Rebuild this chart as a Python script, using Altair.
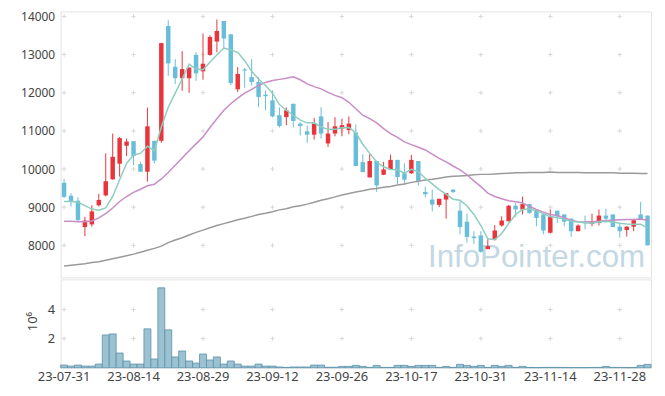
import altair as alt
import pandas as pd
import itertools

dates = [
    "23-07-31", "23-08-01", "23-08-02", "23-08-03", "23-08-04",
    "23-08-07", "23-08-08", "23-08-09", "23-08-10", "23-08-11",
    "23-08-14", "23-08-16", "23-08-17", "23-08-18",
    "23-08-21", "23-08-22", "23-08-23", "23-08-24", "23-08-25",
    "23-08-28", "23-08-29", "23-08-30", "23-08-31", "23-09-01",
    "23-09-04", "23-09-05", "23-09-06", "23-09-07", "23-09-08",
    "23-09-11", "23-09-12", "23-09-13", "23-09-14", "23-09-15",
    "23-09-18", "23-09-19", "23-09-20", "23-09-21", "23-09-22",
    "23-09-25", "23-09-26", "23-09-27",
    "23-10-04", "23-10-05", "23-10-06",
    "23-10-10", "23-10-11", "23-10-12", "23-10-13",
    "23-10-16", "23-10-17", "23-10-18", "23-10-19", "23-10-20",
    "23-10-23", "23-10-24", "23-10-25", "23-10-26", "23-10-27",
    "23-10-30", "23-10-31", "23-11-01", "23-11-02", "23-11-03",
    "23-11-06", "23-11-07", "23-11-08", "23-11-09", "23-11-10",
    "23-11-13", "23-11-14", "23-11-15", "23-11-16", "23-11-17",
    "23-11-20", "23-11-21", "23-11-22", "23-11-23", "23-11-24",
    "23-11-27", "23-11-28", "23-11-29", "23-11-30", "23-12-01",
    "23-12-04",
]

opens = [9640, 9300, 9170, 8480, 8550, 9050, 9310, 9730, 10140, 10610,
         10730, 10130, 9930, 10740, 10740, 13750, 12680, 12380, 12380, 12990,
         12560, 12990, 13340, 13880, 13530, 12090, 12610, 12410, 12280, 11950,
         11800, 11410, 11360, 11710, 11190, 10990, 10900, 11380, 10670, 10930,
         11060, 11020, 10960, 10180, 9780, 10210, 9850, 9990, 10240, 9890,
         9890, 10210, 9400, 9200, 9060, 9200, 9460, 8910, 8620, 8230,
         8260, 7900, 8160, 8520, 8630, 9040, 8940, 9080, 8920, 8810,
         8330, 8910, 8810, 8700, 8370, 8620, 8560, 8590, 8780, 8810,
         8490, 8400, 8490, 8810, 8780]
highs = [9740, 9370, 9260, 8750, 9050, 9350, 10410, 10930, 10840, 10800,
         10730, 10190, 11610, 10740, 13310, 13900, 12880, 13090, 12660, 13060,
         13550, 13510, 13920, 13880, 13530, 12670, 12650, 12880, 12410, 12060,
         12060, 11620, 11610, 11710, 11230, 11140, 11340, 11620, 11230, 11360,
         11320, 11380, 11170, 10390, 10390, 10210, 10190, 10380, 10240, 10150,
         10370, 10210, 9540, 9460, 9220, 9370, 9470, 9150, 8830, 8370,
         8370, 8160, 8530, 8760, 9050, 9110, 9280, 9080, 8940, 8810,
         8940, 8910, 8810, 8700, 8550, 8780, 8830, 8940, 8960, 8810,
         8590, 8500, 8690, 9140, 8780]
lows = [9240, 9020, 8640, 8240, 8490, 9020, 9280, 9720, 9800, 10340,
        10100, 9930, 9670, 10150, 10690, 12440, 12230, 12050, 12000, 12310,
        12340, 12970, 13060, 13170, 12200, 12020, 12130, 12190, 11620, 11540,
        11350, 11090, 11150, 11090, 10880, 10680, 10770, 10800, 10580, 10860,
        10860, 10910, 10080, 9920, 9780, 9400, 9840, 9990, 9610, 9590,
        9870, 9570, 9260, 8890, 9000, 8700, 9370, 8290, 8070, 8040,
        7810, 7900, 8130, 8490, 8630, 8750, 8810, 8830, 8500, 8290,
        8310, 8590, 8500, 8220, 8370, 8420, 8500, 8520, 8590, 8480,
        8200, 8230, 8370, 8690, 8000]
closes = [9270, 9150, 8660, 8650, 8890, 9190, 9680, 10320, 10810, 10720,
          10340, 9930, 11120, 10220, 13300, 12770, 12380, 12620, 12660, 12510,
          12760, 13460, 13620, 13420, 12250, 12490, 12580, 12280, 11890, 11910,
          11380, 11130, 11540, 11260, 11130, 10900, 11190, 10930, 10930, 11120,
          11150, 11190, 10080, 9920, 10210, 9570, 9990, 10240, 9790, 9720,
          10240, 9690, 9340, 9070, 9220, 9370, 9400, 8480, 8220, 8190,
          7830, 7980, 8390, 8650, 9040, 8940, 9080, 8850, 8720, 8390,
          8760, 8760, 8620, 8370, 8520, 8580, 8630, 8780, 8700, 8480,
          8370, 8490, 8660, 8690, 8000]

ma5 = [9150, 9150, 9130, 9040, 8950, 8920, 8980, 9280, 9720, 10150,
       10370, 10410, 10600, 10480, 11100, 11620, 11990, 12360, 12750, 12620,
       12600, 12800, 12990, 13170, 13120, 13060, 12840, 12560, 12360, 12190,
       11990, 11690, 11540, 11410, 11280, 11210, 11210, 11100, 11040, 11040,
       11080, 11090, 10950, 10650, 10410, 10190, 10060, 9990, 9980, 9890,
       9990, 9930, 9760, 9610, 9460, 9340, 9210, 9180, 9040, 8810,
       8520, 8170, 8150, 8310, 8570, 8810, 8940, 8950, 8910, 8830,
       8750, 8730, 8680, 8630, 8610, 8590, 8580, 8610, 8630, 8610,
       8580, 8560, 8550, 8550, 8460]
ma20 = [8630, 8630, 8620, 8620, 8640, 8720, 8830, 8980, 9150, 9280,
        9390, 9470, 9560, 9600, 9740, 9910, 10100, 10290, 10480, 10660,
        10840, 11090, 11320, 11540, 11710, 11860, 11990, 12090, 12190, 12270,
        12320, 12350, 12380, 12420, 12340, 12230, 12160, 12100, 12010, 11930,
        11870, 11750, 11580, 11410, 11320, 11210, 11060, 10930, 10830, 10710,
        10640, 10570, 10500, 10390, 10280, 10190, 10080, 9980, 9850, 9690,
        9540, 9370, 9280, 9220, 9170, 9140, 9110, 9020, 8940, 8870,
        8810, 8780, 8720, 8660, 8620, 8610, 8620, 8630, 8650, 8660,
        8670, 8680, 8680, 8690, 8660]
ma_long = [7460, 7480, 7500, 7520, 7550, 7570, 7610, 7650, 7690, 7730,
           7770, 7820, 7870, 7920, 7980, 8070, 8140, 8200, 8270, 8340,
           8400, 8460, 8520, 8570, 8620, 8670, 8710, 8760, 8810, 8840,
           8880, 8930, 8960, 9010, 9040, 9080, 9130, 9180, 9220, 9270,
           9320, 9360, 9400, 9430, 9470, 9490, 9520, 9540, 9580, 9610,
           9650, 9680, 9710, 9730, 9760, 9790, 9810, 9820, 9830, 9850,
           9860, 9860, 9870, 9880, 9890, 9900, 9900, 9910, 9910, 9910,
           9920, 9910, 9910, 9910, 9910, 9900, 9900, 9900, 9900, 9900,
           9890, 9890, 9890, 9880, 9880]
volume_m = [0.18, 0.11, 0.18, 0.11, 0.11, 0.25, 2.25, 2.32, 1.01, 0.46,
            0.25, 0.25, 2.67, 0.60, 5.49, 2.60, 0.74, 1.15, 0.46, 0.32,
            0.94, 0.53, 0.74, 0.25, 0.46, 0.25, 0.11, 0.11, 0.25, 0.11,
            0.11, 0.05, 0.02, 0.05, 0.05, 0.05, 0.18, 0.18, 0.03, 0.03,
            0.09, 0.09, 0.16, 0.09, 0.02, 0.16, 0.02, 0.02, 0.16, 0.16,
            0.09, 0.16, 0.16, 0.16, 0.02, 0.09, 0.02, 0.23, 0.16, 0.09,
            0.16, 0.02, 0.16, 0.09, 0.16, 0.02, 0.09, 0.02, 0.01, 0.02,
            0.02, 0.02, 0.02, 0.01, 0.01, 0.01, 0.02, 0.02, 0.09, 0.02,
            0.02, 0.01, 0.01, 0.16, 0.23]

x_ticks = ["23-07-31", "23-08-14", "23-08-29", "23-09-12", "23-09-26",
           "23-10-17", "23-10-31", "23-11-14", "23-11-28"]
price_ticks = [8000, 9000, 10000, 11000, 12000, 13000, 14000]
vol_ticks = [2, 4]

RED = "#e8353b"
BLUE = "#68bed8"
FONT = "Noto Sans"
W, H1, H2 = 595, 268, 89

df = pd.DataFrame({
    "date": dates, "open": opens, "high": highs, "low": lows, "close": closes,
    "ma5": ma5, "ma20": ma20, "malong": ma_long, "vol": volume_m,
})

price_grid = pd.DataFrame(list(itertools.product(x_ticks, price_ticks)), columns=["date", "v"])
vol_grid = pd.DataFrame(list(itertools.product(x_ticks, vol_ticks)), columns=["date", "v"])

xs = alt.Scale(type="band", domain=dates, paddingInner=0, paddingOuter=0)
ys = alt.Scale(domain=[7160, 14130], nice=False, zero=False)
vs = alt.Scale(domain=[0, 6.07], nice=False)

PLUS = "M-1,0H1M0,-1V1"
color_cond = alt.condition("datum.close >= datum.open", alt.value(RED), alt.value(BLUE))

xnone = alt.X("date:O", scale=xs, axis=None)

grid1 = alt.Chart(price_grid).mark_point(shape=PLUS, size=20, filled=False, stroke="#d8d8d8", strokeWidth=1, opacity=1).encode(
    x=xnone,
    y=alt.Y("v:Q", scale=ys, axis=alt.Axis(values=price_ticks, format="d", title=None, domain=False, ticks=False,
                                              grid=False, labelPadding=6, labelFontSize=12, labelColor="#444",
                                              labelFont=FONT, minExtent=47, maxExtent=47)),
)

watermark = alt.Chart(df.head(1)).mark_text(
    text="InfoPointer.com", font="Liberation Sans", fontSize=31.5, color="#c3d8e3", align="right", baseline="alphabetic"
).encode(x=alt.value(589), y=alt.value(258))

base = alt.Chart(df)
wicks = base.mark_rule(strokeWidth=1).encode(
    x=xnone, y=alt.Y("low:Q", scale=ys), y2="high:Q", color=color_cond)
bodies = base.mark_bar(size=4.5).encode(
    x=xnone, y=alt.Y("open:Q", scale=ys), y2="close:Q", color=color_cond)

def ma_line(field, color, width=1.5, opacity=1.0):
    return base.mark_line(color=color, strokeWidth=width, opacity=opacity).encode(
        x=xnone, y=alt.Y(f"{field}:Q", scale=ys))

price = alt.layer(
    grid1, watermark, wicks, bodies,
    ma_line("malong", "#9a9a9a", 1.5),
    ma_line("ma20", "#c98cc6", 1.5),
    ma_line("ma5", "#8fcdc0", 1.5),
).properties(width=W, height=H1)

grid2 = alt.Chart(vol_grid).mark_point(shape=PLUS, size=20, filled=False, stroke="#d8d8d8", strokeWidth=1, opacity=1).encode(
    x=alt.X("date:O", scale=xs, axis=alt.Axis(values=x_ticks, title=None, labelAngle=0, domain=False, ticks=False,
                                                 labelPadding=3, labelFontSize=13, labelColor="#444", labelFont=FONT)),
    y=alt.Y("v:Q", scale=vs, axis=alt.Axis(values=vol_ticks, title="10⁶", domain=False, ticks=False, grid=False,
                                              labelPadding=6, labelFontSize=13, labelColor="#444", labelFont=FONT,
                                              titleFont=FONT, titleFontSize=13, titleFontWeight="normal",
                                              titleColor="#444", titleX=-28, titleY=42, titleAngle=-90,
                                              titleAlign="center", titleBaseline="middle")),
)
vbars = base.mark_bar(fill="#9cc2d2", stroke="#5a91aa", strokeWidth=0.8).encode(
    x=alt.X("date:O", scale=xs), y=alt.Y("vol:Q", scale=vs))

vol = alt.layer(grid2, vbars).properties(width=W, height=H2)

chart = alt.vconcat(price, vol, spacing=0).properties(
    padding={"left": 5, "top": 0, "right": 5, "bottom": 5}
).configure_view(stroke="#e3e3e3", strokeWidth=1).configure_concat(spacing=0)

chart.save("out.html", embed_options={"renderer": "svg", "actions": False})
